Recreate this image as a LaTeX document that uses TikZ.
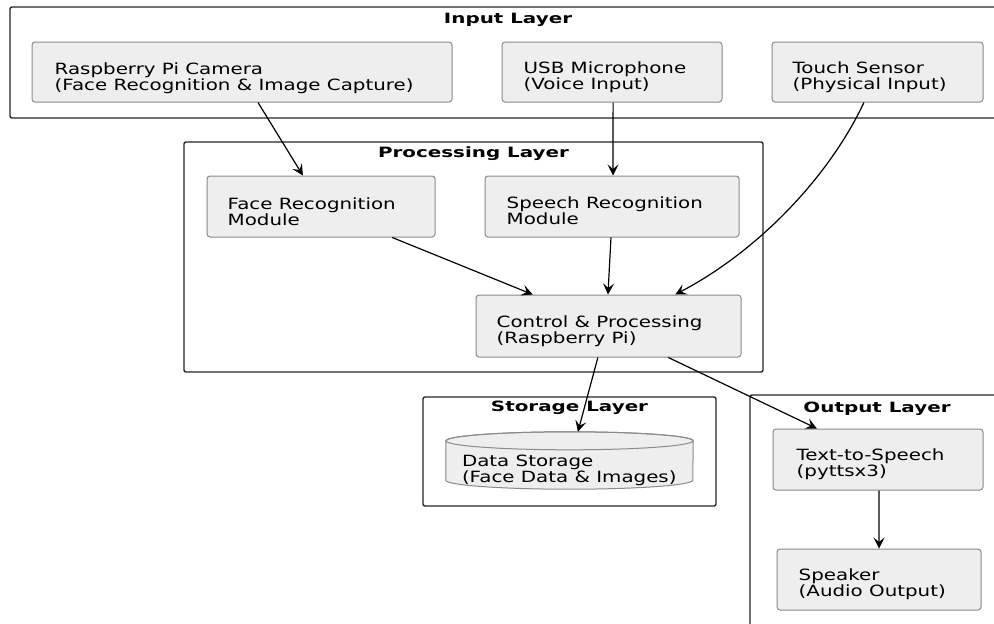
\documentclass[tikz,border=0pt]{standalone}
\usepackage{fontspec}
\usetikzlibrary{arrows.meta,calc}
\newfontfamily\lab[FakeStretch=1.28]{DejaVu Sans}
\newfontfamily\ttl[FakeStretch=1.4]{DejaVu Sans}
\definecolor{boxfill}{HTML}{EEEEEE}
\definecolor{boxline}{HTML}{8A8A8A}
\definecolor{clline}{HTML}{262626}
\tikzset{
  cluster/.style={draw=clline, line width=1.4pt, rounded corners=2pt, inner sep=0pt, fill=none},
  boxnode/.style={draw=boxline, fill=boxfill, line width=1pt, rounded corners=3pt, inner sep=0pt},
  txt/.style={anchor=west, align=left, inner sep=0pt, font=\fontsize{15.5}{15.8}\selectfont\lab},
  ttlnode/.style={anchor=base, inner sep=0pt, font=\fontsize{14.2}{16}\selectfont\ttl\bfseries},
  arr/.style={draw=black, line width=1.2pt, -{Stealth[length=11pt,width=11pt,inset=4.5pt]}},
}
\begin{document}
\begin{tikzpicture}[x=1pt,y=1pt]
\useasboundingbox (0,0) rectangle (994,-624);
\fill[white] (0,0) rectangle (994,-624);
\begin{scope}
\clip (0,0) rectangle (994,-624);
% clusters
\node[cluster, minimum width=996pt, minimum height=111pt] (inL) at (508,-62.5) {};
\node[cluster, minimum width=579pt, minimum height=230pt] (procL) at (473.5,-257) {};
\node[cluster, minimum width=293pt, minimum height=109pt] (storL) at (569.5,-451.5) {};
\node[cluster, minimum width=254pt, minimum height=250pt] (outL) at (877,-520) {};
\end{scope}
% titles
\node[ttlnode] (inT) at (508,-23) {Input Layer};
\node[ttlnode] (procT) at (473.5,-157) {Processing Layer};
\node[ttlnode] (storT) at (569.5,-411) {Storage Layer};
\node[ttlnode] (outT) at (877,-412) {Output Layer};
% boxes
\node[boxnode, minimum width=420pt, minimum height=60pt] (cam) at (242,-72) {};
\node[boxnode, minimum width=220pt, minimum height=60pt] (mic) at (612,-72) {};
\node[boxnode, minimum width=211pt, minimum height=60pt] (touch) at (877.5,-72) {};
\node[boxnode, minimum width=228pt, minimum height=61pt] (face) at (321,-206.5) {};
\node[boxnode, minimum width=254pt, minimum height=61pt] (speech) at (612,-206.5) {};
\node[boxnode, minimum width=265pt, minimum height=62pt] (ctrl) at (608.5,-326) {};
\node[boxnode, minimum width=210pt, minimum height=61pt] (tts) at (878,-459.5) {};
\node[boxnode, minimum width=204pt, minimum height=61pt] (spk) at (879,-579.5) {};
% cylinder
\node[inner sep=0pt, minimum width=247pt, minimum height=57pt] (db) at (569.5,-460.5) {};
\path[draw=boxline, fill=boxfill, line width=1pt]
  ($(db.north west)+(0,-9)$) -- ($(db.south west)+(0,9)$)
  arc[start angle=180, end angle=360, x radius=123.5pt, y radius=9pt]
  -- ($(db.north east)+(0,-9)$)
  arc[start angle=0, end angle=180, x radius=123.5pt, y radius=9pt] -- cycle;
\draw[boxline, line width=1pt] ($(db.north)+(0,-9)$) ellipse[x radius=123.5pt, y radius=9pt];
% texts
\node[txt] (camT) at ([xshift=23pt,yshift=-6pt]cam.west) {Raspberry Pi Camera\\(Face Recognition \& Image Capture)};
\node[txt] (micT) at ([xshift=22pt,yshift=-5pt]mic.west) {USB Microphone\\(Voice Input)};
\node[txt] (touchT) at ([xshift=21pt,yshift=-5pt]touch.west) {Touch Sensor\\(Physical Input)};
\node[txt] (faceT) at ([xshift=21pt,yshift=-5pt]face.west) {Face Recognition\\Module};
\node[txt] (speechT) at ([xshift=22pt,yshift=-4.5pt]speech.west) {Speech Recognition\\Module};
\node[txt] (ctrlT) at ([xshift=21pt,yshift=-5.5pt]ctrl.west) {Control \& Processing\\(Raspberry Pi)};
\node[txt] (dbT) at ([xshift=16pt,yshift=-9.5pt]db.west) {Data Storage\\(Face Data \& Images)};
\node[txt] (ttsT) at ([xshift=24pt,yshift=-4.5pt]tts.west) {Text-to-Speech\\(pyttsx3)};
\node[txt] (spkT) at ([xshift=22pt,yshift=-4.5pt]spk.west) {Speaker\\(Audio Output)};
% arrows
\draw[arr] ($(cam.south west)!0.538!(cam.south east)$) -- ($(face.north west)!0.421!(face.north east)$);
\draw[arr] ($(mic.south west)!0.505!(mic.south east)$) -- ($(speech.north west)!0.504!(speech.north east)$);
\draw[arr] ($(touch.south west)!0.436!(touch.south east)$) .. controls (830,-175) and (760,-250) .. ($(ctrl.north west)!0.751!(ctrl.north east)$);
\draw[arr] ($(face.south west)!0.811!(face.south east)$) -- ($(ctrl.north west)!0.215!(ctrl.north east)$);
\draw[arr] ($(speech.south west)!0.496!(speech.south east)$) -- ($(ctrl.north west)!0.498!(ctrl.north east)$);
\draw[arr] ($(ctrl.south west)!0.46!(ctrl.south east)$) -- ($(db.north west)!0.534!(db.north east)$);
\draw[arr] ($(ctrl.south west)!0.725!(ctrl.south east)$) -- ($(tts.north west)!0.21!(tts.north east)$);
\draw[arr] ($(tts.south west)!0.505!(tts.south east)$) -- ($(spk.north west)!0.5!(spk.north east)$);
\end{tikzpicture}
\end{document}
